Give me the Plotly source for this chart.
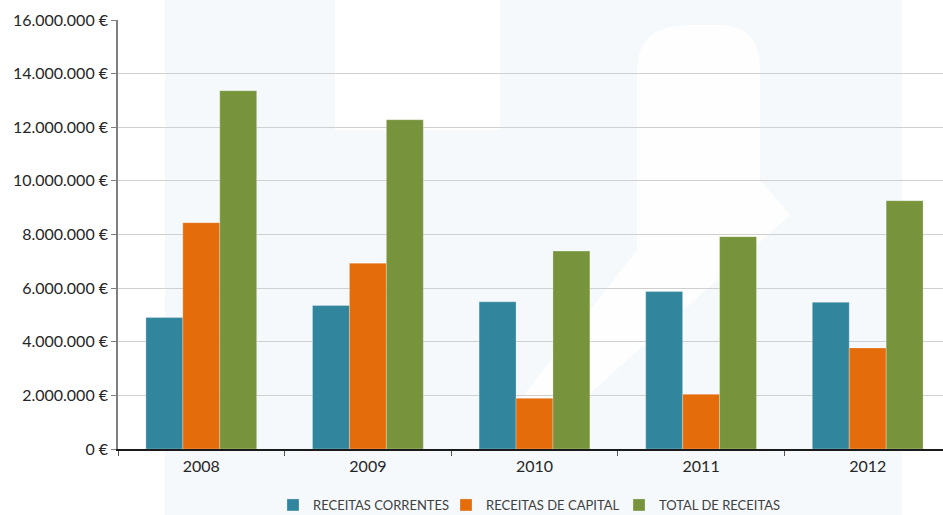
import plotly.graph_objects as go

years = ["2008", "2009", "2010", "2011", "2012"]
receitas_correntes = [4900000, 5350000, 5490000, 5870000, 5470000]
receitas_capital = [8440000, 6930000, 1890000, 2040000, 3770000]
total_receitas = [13360000, 12280000, 7380000, 7920000, 9260000]
series_names = ["RECEITAS CORRENTES", "RECEITAS DE CAPITAL", "TOTAL DE RECEITAS"]
y_tick_vals = [0, 2000000, 4000000, 6000000, 8000000, 10000000, 12000000, 14000000, 16000000]
y_tick_text = ["0 €", "2.000.000 €", "4.000.000 €", "6.000.000 €", "8.000.000 €",
               "10.000.000 €", "12.000.000 €", "14.000.000 €", "16.000.000 €"]

colors = ["#31859C", "#E46C0A", "#77933C"]
FONT = "Lato"

W, H = 943, 515
L, T, B = 118, 20, 449
PW, PH = W - L, B - T


def px(x):
    return (x - L) / PW


def py(y):
    return (B - y) / PH


fig = go.Figure()
for name, vals, c in zip(series_names, [receitas_correntes, receitas_capital, total_receitas], colors):
    fig.add_trace(go.Bar(
        x=years, y=vals, name=name,
        marker=dict(color=c, line=dict(color="rgba(255,255,255,0.45)", width=0.6)),
    ))

tint = "#f5f9fc"
shapes = [
    dict(type="rect", xref="paper", yref="paper", x0=px(165), x1=px(335), y0=py(515), y1=py(0),
         fillcolor=tint, line_width=0, layer="below"),
    dict(type="rect", xref="paper", yref="paper", x0=px(335), x1=px(500), y0=py(515), y1=py(130),
         fillcolor=tint, line_width=0, layer="below"),
    dict(type="rect", xref="paper", yref="paper", x0=px(500), x1=px(902), y0=py(515), y1=py(0),
         fillcolor=tint, line_width=0, layer="below"),
    dict(type="path", xref="paper", yref="paper",
         path="M {},{} L {},{} Q {},{} {},{} L {},{} Q {},{} {},{} L {},{} L {},{} L {},{} L {},{} Z".format(
             px(637), py(250), px(637), py(70), px(637), py(25), px(690), py(25),
             px(720), py(25), px(760), py(25), px(760), py(70),
             px(760), py(180), px(790), py(215), px(560), py(420), px(520), py(400)),
         fillcolor="white", line_width=0, layer="below", opacity=0.85),
]

fig.update_layout(
    width=W, height=H,
    margin=dict(l=L, r=0, t=T, b=H - B, pad=0, autoexpand=False),
    paper_bgcolor="white",
    plot_bgcolor="rgba(0,0,0,0)",
    barmode="group",
    bargap=0.335,
    bargroupgap=0,
    separators=",.",
    font=dict(family=FONT, size=14, color="#333333"),
    shapes=shapes,
    legend=dict(
        orientation="h", x=px(273), xanchor="left", y=py(505), yanchor="middle",
        font=dict(family=FONT, size=13, color="#404040"),
        itemwidth=30, entrywidth=128, entrywidthmode="pixels",
        traceorder="normal", bgcolor="rgba(0,0,0,0)",
    ),
    xaxis=dict(
        type="category",
        range=[-0.5, 4.452],
        showline=True, linecolor="#1a1a1a", linewidth=1.5,
        ticks="outside", tickson="boundaries", ticklen=5, tickcolor="#555555", tickwidth=1,
        showgrid=False, ticklabelstandoff=2,
        tickfont=dict(family=FONT, size=16, color="#262626"),
    ),
    yaxis=dict(
        range=[0, 16000000],
        tickvals=y_tick_vals, ticktext=y_tick_text,
        showline=True, linecolor="#7f7f7f", linewidth=1.5,
        ticks="outside", ticklen=5, tickcolor="#7f7f7f",
        showgrid=True, gridcolor="#d0d0d0", gridwidth=1,
        zeroline=False,
        tickfont=dict(family=FONT, size=16, color="#262626"),
    ),
)

fig.write_html("out.html", config={"displayModeBar": False},
               post_script="document.body.style.margin='0px';")
